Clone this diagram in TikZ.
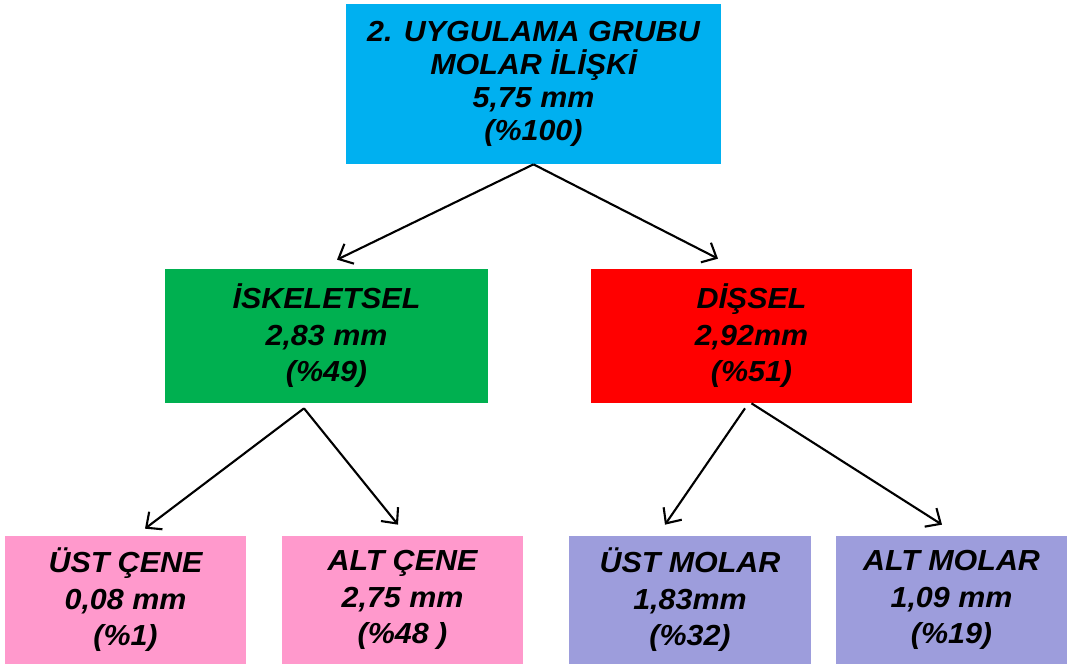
\documentclass[tikz,border=0pt]{standalone}
\usepackage{fontspec}
\setmainfont{Liberation Sans}[FakeStretch=1.05]
\usetikzlibrary{positioning}
\usetikzlibrary{arrows.meta}

\definecolor{gmavi}{HTML}{00B0F0}
\definecolor{gyesil}{HTML}{00B050}
\definecolor{gkirmizi}{HTML}{FF0000}
\definecolor{gpembe}{HTML}{FF99CC}
\definecolor{glila}{HTML}{9D9DDC}

\begin{document}
\begin{tikzpicture}[x=0.02cm,y=-0.02cm,
		kutu/.style={rectangle, inner sep=0pt, align=center,
			font=\fontsize{16.5}{20.8}\selectfont\bfseries\itshape},
		ok/.style={-{Straight Barb[length=2.4mm,width=4.4mm]}, line width=1.2pt, black}]
		\useasboundingbox (0,0) rectangle (1069,667);

		% ust kutu
		\node[kutu, fill=gmavi, minimum width=7.5cm, minimum height=3.2cm,
			font=\fontsize{16.5}{18.8}\selectfont\bfseries\itshape] at (533.5,84) (grp)
		{2. UYGULAMA GRUBU\\ MOLAR İLİŞKİ\\ 5,75 mm\\ (\%100)};

		% orta sira
		\node[kutu, fill=gyesil, minimum width=6.46cm, minimum height=2.68cm] at (326.5,336) (isk)
		{İSKELETSEL\\ 2,83 mm\\ (\%49)};
		\node[kutu, fill=gkirmizi, minimum width=6.42cm, minimum height=2.68cm] at (751.5,336) (dis)
		{DİŞSEL\\ 2,92mm\\ (\%51)};

		% alt sira
		\node[kutu, fill=gpembe, minimum width=4.82cm, minimum height=2.56cm] at (125.5,600) (ustc)
		{ÜST ÇENE\\ 0,08 mm\\ (\%1)};
		\node[kutu, fill=gpembe, minimum width=4.82cm, minimum height=2.56cm] at (402.5,600) (altc)
		{ALT ÇENE\\ 2,75 mm\\ (\%48 )};
		\node[kutu, fill=glila, minimum width=4.84cm, minimum height=2.56cm] at (690,600) (ustm)
		{ÜST MOLAR\\ 1,83mm\\ (\%32)};
		\node[kutu, fill=glila, minimum width=4.62cm, minimum height=2.56cm] at (951.5,600) (altm)
		{ALT MOLAR\\ 1,09 mm\\ (\%19)};

		% oklar
		\draw[ok] (grp.south) -- ([xshift=0.21cm,yshift=0.18cm]isk.north);
		\draw[ok] (grp.south) -- ([xshift=-0.67cm,yshift=0.2cm]dis.north);
		\draw[ok] ([xshift=-0.45cm,yshift=-0.1cm]isk.south) -- ([xshift=0.39cm,yshift=0.14cm]ustc.north);
		\draw[ok] ([xshift=-0.45cm,yshift=-0.1cm]isk.south) -- ([xshift=-0.09cm,yshift=0.22cm]altc.north);
		\draw[ok] ([xshift=-0.13cm,yshift=-0.1cm]dis.south) -- ([xshift=-0.5cm,yshift=0.22cm]ustm.north);
		\draw[ok] (dis.south) -- ([xshift=-0.19cm,yshift=0.22cm]altm.north);
	\end{tikzpicture}
\end{document}
